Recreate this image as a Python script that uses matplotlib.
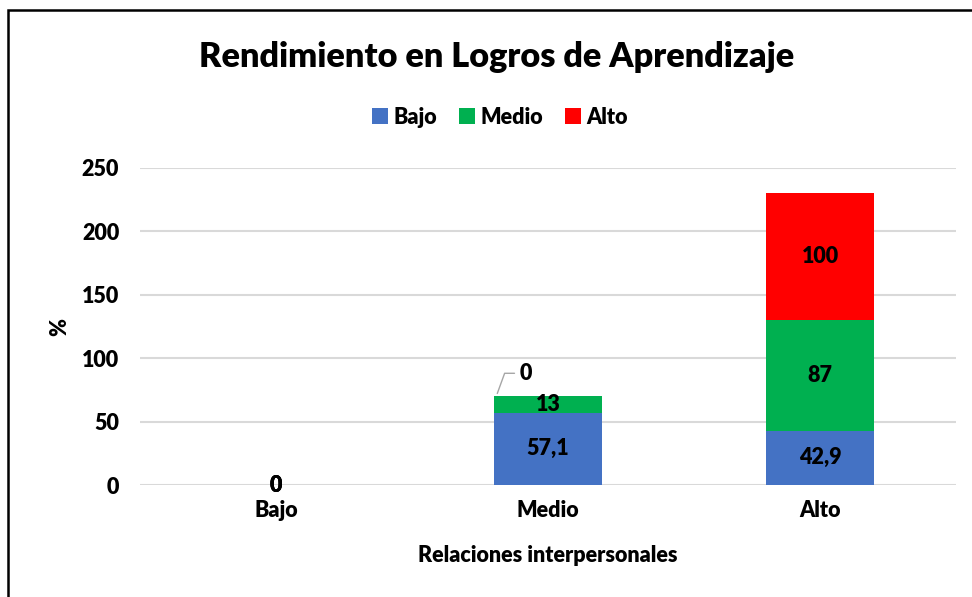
import numpy as np
import matplotlib.pyplot as plt
from matplotlib.patches import Rectangle

plt.rcParams['font.family'] = ['Lato', 'DejaVu Sans']
plt.rcParams['font.weight'] = 'heavy'
plt.rcParams['axes.labelweight'] = 'heavy'

categories = ['Bajo', 'Medio', 'Alto']
bajo = [0, 57.1, 42.9]
medio = [0, 13, 87]
alto = [0, 0, 100]
series_names = ['Bajo', 'Medio', 'Alto']
colors = ['#4472C4', '#00B050', '#FF0000']

fs = 15.5
fig = plt.figure(figsize=(9.72, 5.97), dpi=100)
ax = fig.add_axes([140/972, 1 - 485/597, 816/972, 317/597])

x = np.arange(len(categories))
bottom = np.zeros(len(categories))
for name, vals, col in zip(series_names, [bajo, medio, alto], colors):
    vals = np.array(vals, dtype=float)
    ax.bar(x, vals, width=0.4, bottom=bottom, color=col, label=name, zorder=3)
    for i, v in enumerate(vals):
        lbl = ('%g' % v).replace('.', ',')
        if i == 1 and name == 'Alto':
            # label pulled out with a leader line
            ax.annotate(lbl, xy=(x[i] - 0.19, bottom[i] + v), xytext=(x[i] - 0.08, bottom[i] + v + 18),
                        ha='center', va='center', fontsize=fs,
                        arrowprops=dict(arrowstyle='-', color='#A6A6A6', lw=1,
                                        connectionstyle='angle,angleA=0,angleB=70,rad=0'))
        elif v == 0:
            ax.text(x[i], bottom[i] + v, lbl, ha='center', va='center', fontsize=fs, zorder=4)
        else:
            ax.text(x[i], bottom[i] + v / 2, lbl, ha='center', va='center', fontsize=fs, zorder=4)
    bottom += vals

ax.set_xlim(-0.5, 2.5)
ax.set_ylim(0, 250)
ax.set_yticks(range(0, 251, 50))
ax.set_xticks(x)
ax.set_xticklabels(categories, fontsize=fs)
ax.tick_params(axis='y', labelsize=fs, length=0, pad=15)
ax.tick_params(axis='x', length=0, pad=11)
ax.grid(axis='y', color='#D9D9D9', lw=1.5, zorder=0)
for s in ax.spines.values():
    s.set_visible(False)
ax.set_ylabel('%', fontsize=fs, fontweight='heavy', labelpad=8)
ax.set_xlabel('Relaciones interpersonales', fontsize=fs, fontweight='heavy', labelpad=17)

fig.text(497/972, 1 - 57/597, 'Rendimiento en Logros de Aprendizaje', ha='center', va='center',
         fontsize=24.7)
fig.legend(loc='center', bbox_to_anchor=(500/972, 1 - 117/597), ncol=3, frameon=False,
           fontsize=fs, handlelength=0.75, handleheight=0.75, handletextpad=0.25, columnspacing=1.0)

# chart border (cropped at right and bottom)
fig.patches.append(Rectangle((8/972, -0.1), 1.2, 1 - 10/597 + 0.1, transform=fig.transFigure,
                             fill=False, edgecolor='black', lw=1.8))

fig.savefig('out.png', dpi=100)
